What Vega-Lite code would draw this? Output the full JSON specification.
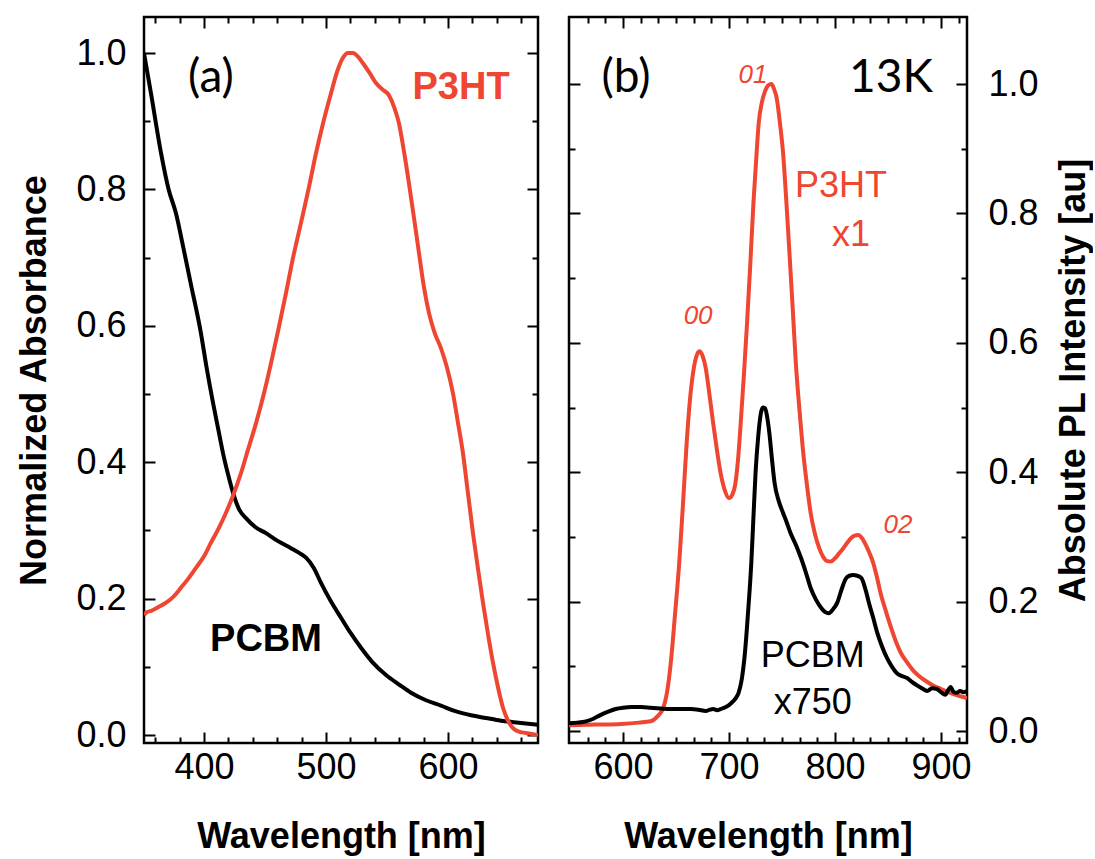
{
"$schema":"https://vega.github.io/schema/vega-lite/v6.json",
"padding":{"left":15,"top":14,"right":0,"bottom":0},
"spacing":25,
"datasets":{
"abs":[
{"wl":350.8,"a":1.0,"s":"PCBM"},{"wl":356.6,"a":0.94,"s":"PCBM"},{"wl":364.8,"a":0.853,"s":"PCBM"},{"wl":371,"a":0.8,"s":"PCBM"},{"wl":377,"a":0.765,"s":"PCBM"},{"wl":383,"a":0.715,"s":"PCBM"},{"wl":389,"a":0.663,"s":"PCBM"},{"wl":397.5,"a":0.589,"s":"PCBM"},{"wl":402,"a":0.54,"s":"PCBM"},{"wl":407.4,"a":0.487,"s":"PCBM"},{"wl":411.5,"a":0.45,"s":"PCBM"},{"wl":415.6,"a":0.413,"s":"PCBM"},{"wl":420,"a":0.38,"s":"PCBM"},{"wl":423.8,"a":0.355,"s":"PCBM"},{"wl":429,"a":0.33,"s":"PCBM"},{"wl":434.4,"a":0.318,"s":"PCBM"},{"wl":442,"a":0.305,"s":"PCBM"},{"wl":450.8,"a":0.296,"s":"PCBM"},{"wl":460,"a":0.285,"s":"PCBM"},{"wl":471.3,"a":0.274,"s":"PCBM"},{"wl":478,"a":0.267,"s":"PCBM"},{"wl":483.6,"a":0.26,"s":"PCBM"},{"wl":490,"a":0.245,"s":"PCBM"},{"wl":495.9,"a":0.223,"s":"PCBM"},{"wl":504,"a":0.196,"s":"PCBM"},{"wl":512.3,"a":0.172,"s":"PCBM"},{"wl":520,"a":0.15,"s":"PCBM"},{"wl":528.7,"a":0.128,"s":"PCBM"},{"wl":538,"a":0.107,"s":"PCBM"},{"wl":549.2,"a":0.088,"s":"PCBM"},{"wl":560,"a":0.074,"s":"PCBM"},{"wl":569.7,"a":0.062,"s":"PCBM"},{"wl":582,"a":0.051,"s":"PCBM"},{"wl":594.3,"a":0.043,"s":"PCBM"},{"wl":606,"a":0.035,"s":"PCBM"},{"wl":618.9,"a":0.029,"s":"PCBM"},{"wl":631,"a":0.025,"s":"PCBM"},{"wl":643.4,"a":0.021,"s":"PCBM"},{"wl":658,"a":0.018,"s":"PCBM"},{"wl":673.8,"a":0.015,"s":"PCBM"},
{"wl":350.8,"a":0.176,"s":"P3HT"},{"wl":353,"a":0.18,"s":"P3HT"},{"wl":356.6,"a":0.182,"s":"P3HT"},{"wl":360,"a":0.185,"s":"P3HT"},{"wl":365,"a":0.19,"s":"P3HT"},{"wl":368.9,"a":0.194,"s":"P3HT"},{"wl":375,"a":0.203,"s":"P3HT"},{"wl":381.1,"a":0.216,"s":"P3HT"},{"wl":387,"a":0.229,"s":"P3HT"},{"wl":393.4,"a":0.245,"s":"P3HT"},{"wl":400,"a":0.262,"s":"P3HT"},{"wl":405.7,"a":0.282,"s":"P3HT"},{"wl":412,"a":0.303,"s":"P3HT"},{"wl":418,"a":0.326,"s":"P3HT"},{"wl":424,"a":0.352,"s":"P3HT"},{"wl":430.3,"a":0.384,"s":"P3HT"},{"wl":436,"a":0.418,"s":"P3HT"},{"wl":442.6,"a":0.457,"s":"P3HT"},{"wl":449,"a":0.5,"s":"P3HT"},{"wl":454.9,"a":0.545,"s":"P3HT"},{"wl":461,"a":0.595,"s":"P3HT"},{"wl":467.2,"a":0.648,"s":"P3HT"},{"wl":473,"a":0.7,"s":"P3HT"},{"wl":479.5,"a":0.751,"s":"P3HT"},{"wl":486,"a":0.803,"s":"P3HT"},{"wl":491.8,"a":0.853,"s":"P3HT"},{"wl":498,"a":0.9,"s":"P3HT"},{"wl":504.1,"a":0.941,"s":"P3HT"},{"wl":509,"a":0.972,"s":"P3HT"},{"wl":513.9,"a":0.993,"s":"P3HT"},{"wl":518,"a":1.0,"s":"P3HT"},{"wl":522.1,"a":1.0,"s":"P3HT"},{"wl":526,"a":0.995,"s":"P3HT"},{"wl":530.3,"a":0.985,"s":"P3HT"},{"wl":536,"a":0.97,"s":"P3HT"},{"wl":541,"a":0.956,"s":"P3HT"},{"wl":546,"a":0.947,"s":"P3HT"},{"wl":551.6,"a":0.938,"s":"P3HT"},{"wl":556,"a":0.92,"s":"P3HT"},{"wl":559.8,"a":0.897,"s":"P3HT"},{"wl":564,"a":0.855,"s":"P3HT"},{"wl":568,"a":0.809,"s":"P3HT"},{"wl":572,"a":0.76,"s":"P3HT"},{"wl":576.2,"a":0.707,"s":"P3HT"},{"wl":580,"a":0.66,"s":"P3HT"},{"wl":584.4,"a":0.619,"s":"P3HT"},{"wl":589,"a":0.59,"s":"P3HT"},{"wl":594.3,"a":0.567,"s":"P3HT"},{"wl":599,"a":0.54,"s":"P3HT"},{"wl":604.1,"a":0.501,"s":"P3HT"},{"wl":608,"a":0.46,"s":"P3HT"},{"wl":612.3,"a":0.413,"s":"P3HT"},{"wl":616,"a":0.36,"s":"P3HT"},{"wl":620.5,"a":0.296,"s":"P3HT"},{"wl":624.5,"a":0.245,"s":"P3HT"},{"wl":628.7,"a":0.194,"s":"P3HT"},{"wl":633,"a":0.146,"s":"P3HT"},{"wl":636.9,"a":0.106,"s":"P3HT"},{"wl":641,"a":0.07,"s":"P3HT"},{"wl":645.1,"a":0.04,"s":"P3HT"},{"wl":649,"a":0.022,"s":"P3HT"},{"wl":653.3,"a":0.01,"s":"P3HT"},{"wl":658,"a":0.005,"s":"P3HT"},{"wl":664,"a":0.003,"s":"P3HT"},{"wl":673.8,"a":0.0,"s":"P3HT"}
],
"pl":[
{"wl":549,"p":0.009,"s":"P3HT"},{"wl":575,"p":0.01,"s":"P3HT"},{"wl":598,"p":0.011,"s":"P3HT"},{"wl":615,"p":0.013,"s":"P3HT"},{"wl":626,"p":0.015,"s":"P3HT"},{"wl":632,"p":0.022,"s":"P3HT"},{"wl":638,"p":0.036,"s":"P3HT"},{"wl":641.5,"p":0.06,"s":"P3HT"},{"wl":645,"p":0.105,"s":"P3HT"},{"wl":649,"p":0.18,"s":"P3HT"},{"wl":653,"p":0.26,"s":"P3HT"},{"wl":656.5,"p":0.35,"s":"P3HT"},{"wl":660,"p":0.445,"s":"P3HT"},{"wl":663,"p":0.51,"s":"P3HT"},{"wl":666,"p":0.553,"s":"P3HT"},{"wl":669,"p":0.578,"s":"P3HT"},{"wl":672,"p":0.587,"s":"P3HT"},{"wl":675,"p":0.58,"s":"P3HT"},{"wl":678,"p":0.561,"s":"P3HT"},{"wl":681.5,"p":0.52,"s":"P3HT"},{"wl":685,"p":0.476,"s":"P3HT"},{"wl":688.5,"p":0.435,"s":"P3HT"},{"wl":692,"p":0.399,"s":"P3HT"},{"wl":696,"p":0.372,"s":"P3HT"},{"wl":700,"p":0.36,"s":"P3HT"},{"wl":703,"p":0.365,"s":"P3HT"},{"wl":706,"p":0.383,"s":"P3HT"},{"wl":708.5,"p":0.42,"s":"P3HT"},{"wl":711,"p":0.476,"s":"P3HT"},{"wl":714,"p":0.55,"s":"P3HT"},{"wl":717,"p":0.631,"s":"P3HT"},{"wl":720,"p":0.72,"s":"P3HT"},{"wl":723,"p":0.816,"s":"P3HT"},{"wl":725.5,"p":0.88,"s":"P3HT"},{"wl":728,"p":0.94,"s":"P3HT"},{"wl":731,"p":0.972,"s":"P3HT"},{"wl":734,"p":0.989,"s":"P3HT"},{"wl":737,"p":0.998,"s":"P3HT"},{"wl":740,"p":1.0,"s":"P3HT"},{"wl":742.5,"p":0.992,"s":"P3HT"},{"wl":745,"p":0.978,"s":"P3HT"},{"wl":748,"p":0.94,"s":"P3HT"},{"wl":751,"p":0.893,"s":"P3HT"},{"wl":754,"p":0.82,"s":"P3HT"},{"wl":757,"p":0.739,"s":"P3HT"},{"wl":760,"p":0.655,"s":"P3HT"},{"wl":763,"p":0.569,"s":"P3HT"},{"wl":766.5,"p":0.495,"s":"P3HT"},{"wl":770,"p":0.43,"s":"P3HT"},{"wl":773.5,"p":0.38,"s":"P3HT"},{"wl":777,"p":0.337,"s":"P3HT"},{"wl":781,"p":0.305,"s":"P3HT"},{"wl":785,"p":0.283,"s":"P3HT"},{"wl":788.5,"p":0.27,"s":"P3HT"},{"wl":792,"p":0.263,"s":"P3HT"},{"wl":796,"p":0.262,"s":"P3HT"},{"wl":800,"p":0.267,"s":"P3HT"},{"wl":804,"p":0.275,"s":"P3HT"},{"wl":808,"p":0.283,"s":"P3HT"},{"wl":811.5,"p":0.291,"s":"P3HT"},{"wl":815,"p":0.298,"s":"P3HT"},{"wl":818.5,"p":0.302,"s":"P3HT"},{"wl":822,"p":0.303,"s":"P3HT"},{"wl":825,"p":0.299,"s":"P3HT"},{"wl":828,"p":0.291,"s":"P3HT"},{"wl":832,"p":0.277,"s":"P3HT"},{"wl":836,"p":0.26,"s":"P3HT"},{"wl":839.5,"p":0.238,"s":"P3HT"},{"wl":843,"p":0.213,"s":"P3HT"},{"wl":848,"p":0.185,"s":"P3HT"},{"wl":853,"p":0.159,"s":"P3HT"},{"wl":857.5,"p":0.138,"s":"P3HT"},{"wl":862,"p":0.121,"s":"P3HT"},{"wl":868,"p":0.106,"s":"P3HT"},{"wl":874,"p":0.093,"s":"P3HT"},{"wl":880,"p":0.084,"s":"P3HT"},{"wl":886,"p":0.077,"s":"P3HT"},{"wl":893,"p":0.07,"s":"P3HT"},{"wl":900,"p":0.065,"s":"P3HT"},{"wl":907,"p":0.06,"s":"P3HT"},{"wl":914,"p":0.056,"s":"P3HT"},{"wl":920,"p":0.053,"s":"P3HT"},{"wl":924.5,"p":0.051,"s":"P3HT"},
{"wl":549,"p":0.012,"s":"PCBM"},{"wl":557,"p":0.013,"s":"PCBM"},{"wl":565,"p":0.015,"s":"PCBM"},{"wl":572,"p":0.019,"s":"PCBM"},{"wl":579,"p":0.025,"s":"PCBM"},{"wl":586,"p":0.03,"s":"PCBM"},{"wl":593,"p":0.034,"s":"PCBM"},{"wl":600,"p":0.036,"s":"PCBM"},{"wl":608,"p":0.037,"s":"PCBM"},{"wl":617,"p":0.037,"s":"PCBM"},{"wl":626,"p":0.036,"s":"PCBM"},{"wl":635,"p":0.035,"s":"PCBM"},{"wl":645,"p":0.034,"s":"PCBM"},{"wl":655,"p":0.034,"s":"PCBM"},{"wl":664,"p":0.034,"s":"PCBM"},{"wl":671,"p":0.033,"s":"PCBM"},{"wl":678,"p":0.031,"s":"PCBM"},{"wl":682,"p":0.033,"s":"PCBM"},{"wl":685,"p":0.034,"s":"PCBM"},{"wl":689,"p":0.032,"s":"PCBM"},{"wl":692,"p":0.034,"s":"PCBM"},{"wl":697,"p":0.037,"s":"PCBM"},{"wl":702,"p":0.043,"s":"PCBM"},{"wl":706,"p":0.05,"s":"PCBM"},{"wl":709,"p":0.059,"s":"PCBM"},{"wl":712,"p":0.08,"s":"PCBM"},{"wl":715,"p":0.121,"s":"PCBM"},{"wl":718,"p":0.185,"s":"PCBM"},{"wl":721,"p":0.26,"s":"PCBM"},{"wl":723,"p":0.33,"s":"PCBM"},{"wl":725,"p":0.399,"s":"PCBM"},{"wl":727.5,"p":0.455,"s":"PCBM"},{"wl":730,"p":0.491,"s":"PCBM"},{"wl":732,"p":0.5,"s":"PCBM"},{"wl":734,"p":0.499,"s":"PCBM"},{"wl":736,"p":0.485,"s":"PCBM"},{"wl":738,"p":0.461,"s":"PCBM"},{"wl":740.5,"p":0.42,"s":"PCBM"},{"wl":743,"p":0.383,"s":"PCBM"},{"wl":747,"p":0.355,"s":"PCBM"},{"wl":751,"p":0.337,"s":"PCBM"},{"wl":754.5,"p":0.322,"s":"PCBM"},{"wl":758,"p":0.306,"s":"PCBM"},{"wl":763,"p":0.288,"s":"PCBM"},{"wl":768,"p":0.267,"s":"PCBM"},{"wl":772.5,"p":0.245,"s":"PCBM"},{"wl":777,"p":0.221,"s":"PCBM"},{"wl":782,"p":0.203,"s":"PCBM"},{"wl":787,"p":0.19,"s":"PCBM"},{"wl":790.5,"p":0.184,"s":"PCBM"},{"wl":794,"p":0.182,"s":"PCBM"},{"wl":798,"p":0.188,"s":"PCBM"},{"wl":802,"p":0.198,"s":"PCBM"},{"wl":806,"p":0.218,"s":"PCBM"},{"wl":810,"p":0.235,"s":"PCBM"},{"wl":813.5,"p":0.24,"s":"PCBM"},{"wl":817,"p":0.241,"s":"PCBM"},{"wl":821,"p":0.24,"s":"PCBM"},{"wl":825,"p":0.236,"s":"PCBM"},{"wl":828.5,"p":0.22,"s":"PCBM"},{"wl":832,"p":0.198,"s":"PCBM"},{"wl":836,"p":0.175,"s":"PCBM"},{"wl":840,"p":0.151,"s":"PCBM"},{"wl":844.5,"p":0.13,"s":"PCBM"},{"wl":849,"p":0.113,"s":"PCBM"},{"wl":853.5,"p":0.1,"s":"PCBM"},{"wl":858,"p":0.09,"s":"PCBM"},{"wl":863,"p":0.085,"s":"PCBM"},{"wl":868,"p":0.082,"s":"PCBM"},{"wl":872.5,"p":0.076,"s":"PCBM"},{"wl":877,"p":0.071,"s":"PCBM"},{"wl":882,"p":0.066,"s":"PCBM"},{"wl":887,"p":0.062,"s":"PCBM"},{"wl":891.5,"p":0.066,"s":"PCBM"},{"wl":896,"p":0.065,"s":"PCBM"},{"wl":900,"p":0.06,"s":"PCBM"},{"wl":904,"p":0.056,"s":"PCBM"},{"wl":907,"p":0.064,"s":"PCBM"},{"wl":909,"p":0.068,"s":"PCBM"},{"wl":912,"p":0.06,"s":"PCBM"},{"wl":915,"p":0.059,"s":"PCBM"},{"wl":918,"p":0.062,"s":"PCBM"},{"wl":921,"p":0.06,"s":"PCBM"},{"wl":924.5,"p":0.062,"s":"PCBM"}
]
},
"hconcat":[
{
"width":394,"height":726,
"resolve":{"axis":{"x":"independent","y":"independent"}},
"layer":[
{"data":{"name":"abs"},"mark":{"type":"line","strokeWidth":4,"clip":true,"interpolate":"monotone"},
 "encoding":{
  "x":{"field":"wl","type":"quantitative","scale":{"domain":[350.8,673.8],"nice":false,"zero":false},"axis":{"orient":"bottom","values":[400,500,600],"title":"Wavelength [nm]","tickSize":-11,"labelPadding":18,"titlePadding":34,"labelFlush":false}},
  "y":{"field":"a","type":"quantitative","scale":{"domain":[-0.0117,1.0528],"nice":false,"zero":false},"axis":{"orient":"left","values":[0,0.2,0.4,0.6,0.8,1],"format":".1f","title":"Normalized Absorbance","tickSize":-11,"labelPadding":29,"titlePadding":22,"labelFlush":false}},
  "color":{"field":"s","type":"nominal","scale":{"domain":["P3HT","PCBM"],"range":["#ef4631","#000000"]},"legend":null}
 }},
{"data":{"name":"abs"},"mark":{"type":"line","opacity":0},
 "encoding":{
  "x":{"field":"wl","type":"quantitative","scale":{"domain":[350.8,673.8],"nice":false,"zero":false},"axis":{"orient":"bottom","values":[360,380,420,440,460,480,520,540,560,580,620,640,660],"labels":false,"title":null,"tickSize":-6}},
  "y":{"field":"a","type":"quantitative","scale":{"domain":[-0.0117,1.0528],"nice":false,"zero":false},"axis":{"orient":"left","values":[0.1,0.3,0.5,0.7,0.9],"labels":false,"title":null,"tickSize":-6}}
 }},
{"data":{"name":"abs"},"mark":{"type":"line","opacity":0},
 "encoding":{
  "x":{"field":"wl","type":"quantitative","scale":{"domain":[350.8,673.8],"nice":false,"zero":false},"axis":{"orient":"top","values":[400,500,600],"labels":false,"title":null,"tickSize":-11}},
  "y":{"field":"a","type":"quantitative","scale":{"domain":[-0.0117,1.0528],"nice":false,"zero":false},"axis":{"orient":"right","values":[0,0.2,0.4,0.6,0.8,1],"labels":false,"title":null,"tickSize":-11}}
 }},
{"data":{"name":"abs"},"mark":{"type":"line","opacity":0},
 "encoding":{
  "x":{"field":"wl","type":"quantitative","scale":{"domain":[350.8,673.8],"nice":false,"zero":false},"axis":{"orient":"top","values":[360,380,420,440,460,480,520,540,560,580,620,640,660],"labels":false,"title":null,"tickSize":-6}},
  "y":{"field":"a","type":"quantitative","scale":{"domain":[-0.0117,1.0528],"nice":false,"zero":false},"axis":{"orient":"right","values":[0.1,0.3,0.5,0.7,0.9],"labels":false,"title":null,"tickSize":-6}}
 }},
{"data":{"values":[{"x":405.7,"y":0.963,"t":"(a)"}]},"mark":{"type":"text","font":"Lato","fontSize":46,"color":"#000","align":"center","baseline":"middle"},
 "encoding":{"x":{"field":"x","type":"quantitative","axis":null},"y":{"field":"y","type":"quantitative","axis":null},"text":{"field":"t"}}},
{"data":{"values":[{"x":610.7,"y":0.949,"t":"P3HT"}]},"mark":{"type":"text","font":"Liberation Sans","fontWeight":"bold","fontSize":38,"color":"#ef4631","align":"center","baseline":"middle"},
 "encoding":{"x":{"field":"x","type":"quantitative","axis":null},"y":{"field":"y","type":"quantitative","axis":null},"text":{"field":"t"}}},
{"data":{"values":[{"x":450.8,"y":0.139,"t":"PCBM"}]},"mark":{"type":"text","font":"Liberation Sans","fontWeight":"bold","fontSize":38,"color":"#000","align":"center","baseline":"middle"},
 "encoding":{"x":{"field":"x","type":"quantitative","axis":null},"y":{"field":"y","type":"quantitative","axis":null},"text":{"field":"t"}}}
]
},
{
"width":398,"height":726,
"resolve":{"axis":{"x":"independent","y":"independent"}},
"layer":[
{"data":{"name":"pl"},"mark":{"type":"line","strokeWidth":4,"clip":true,"interpolate":"monotone"},
 "encoding":{
  "x":{"field":"wl","type":"quantitative","scale":{"domain":[549,924.5],"nice":false,"zero":false},"axis":{"orient":"bottom","values":[600,700,800,900],"title":"Wavelength [nm]","tickSize":-11,"labelPadding":18,"titlePadding":34,"labelFlush":false}},
  "y":{"field":"p","type":"quantitative","scale":{"domain":[-0.0185,1.1036],"nice":false,"zero":false},"axis":{"orient":"right","values":[0,0.2,0.4,0.6,0.8,1],"format":".1f","title":"Absolute PL Intensity [au]","titleAngle":270,"titleBaseline":"top","tickSize":-11,"labelPadding":32,"titlePadding":18,"labelFlush":false}},
  "color":{"field":"s","type":"nominal","scale":{"domain":["P3HT","PCBM"],"range":["#ef4631","#000000"]},"legend":null}
 }},
{"data":{"name":"pl"},"mark":{"type":"line","opacity":0},
 "encoding":{
  "x":{"field":"wl","type":"quantitative","scale":{"domain":[549,924.5],"nice":false,"zero":false},"axis":{"orient":"bottom","values":[566.67,583.33,616.67,633.33,650,666.67,683.33,716.67,733.33,750,766.67,783.33,816.67,833.33,850,866.67,883.33,916.67],"labels":false,"title":null,"tickSize":-6}},
  "y":{"field":"p","type":"quantitative","scale":{"domain":[-0.0185,1.1036],"nice":false,"zero":false},"axis":{"orient":"right","values":[0.1,0.3,0.5,0.7,0.9],"labels":false,"title":null,"tickSize":-6}}
 }},
{"data":{"name":"pl"},"mark":{"type":"line","opacity":0},
 "encoding":{
  "x":{"field":"wl","type":"quantitative","scale":{"domain":[549,924.5],"nice":false,"zero":false},"axis":{"orient":"top","values":[600,700,800,900],"labels":false,"title":null,"tickSize":-11}},
  "y":{"field":"p","type":"quantitative","scale":{"domain":[-0.0185,1.1036],"nice":false,"zero":false},"axis":{"orient":"left","values":[0,0.2,0.4,0.6,0.8,1],"labels":false,"title":null,"tickSize":-11}}
 }},
{"data":{"name":"pl"},"mark":{"type":"line","opacity":0},
 "encoding":{
  "x":{"field":"wl","type":"quantitative","scale":{"domain":[549,924.5],"nice":false,"zero":false},"axis":{"orient":"top","values":[566.67,583.33,616.67,633.33,650,666.67,683.33,716.67,733.33,750,766.67,783.33,816.67,833.33,850,866.67,883.33,916.67],"labels":false,"title":null,"tickSize":-6}},
  "y":{"field":"p","type":"quantitative","scale":{"domain":[-0.0185,1.1036],"nice":false,"zero":false},"axis":{"orient":"left","values":[0.1,0.3,0.5,0.7,0.9],"labels":false,"title":null,"tickSize":-6}}
 }},
{"data":{"values":[{"x":602.8,"y":1.009,"t":"(b)"},{"x":852.8,"y":1.009,"t":"13K"}]},"mark":{"type":"text","font":"Lato","fontSize":46,"color":"#000","align":"center","baseline":"middle"},
 "encoding":{"x":{"field":"x","type":"quantitative","axis":null},"y":{"field":"y","type":"quantitative","axis":null},"text":{"field":"t"}}},
{"data":{"values":[{"x":805.7,"y":0.842,"t":"P3HT"},{"x":815,"y":0.767,"t":"x1"}]},"mark":{"type":"text","font":"Liberation Sans","fontSize":36,"color":"#ef4631","align":"center","baseline":"middle"},
 "encoding":{"x":{"field":"x","type":"quantitative","axis":null},"y":{"field":"y","type":"quantitative","axis":null},"text":{"field":"t"}}},
{"data":{"values":[{"x":670.8,"y":0.641,"t":"00"},{"x":722.6,"y":1.014,"t":"01"},{"x":859.4,"y":0.318,"t":"02"}]},"mark":{"type":"text","font":"Liberation Sans","fontStyle":"italic","fontSize":26,"color":"#ef4631","align":"center","baseline":"middle"},
 "encoding":{"x":{"field":"x","type":"quantitative","axis":null},"y":{"field":"y","type":"quantitative","axis":null},"text":{"field":"t"}}},
{"data":{"values":[{"x":779,"y":0.116,"t":"PCBM"},{"x":779,"y":0.043,"t":"x750"}]},"mark":{"type":"text","font":"Liberation Sans","fontSize":36,"color":"#000","align":"center","baseline":"middle"},
 "encoding":{"x":{"field":"x","type":"quantitative","axis":null},"y":{"field":"y","type":"quantitative","axis":null},"text":{"field":"t"}}}
]
}
],
"config":{
 "view":{"stroke":"#000","strokeWidth":2.5},
 "axis":{"domain":false,"grid":false,"tickColor":"#000","tickWidth":2,"labelColor":"#000","labelFont":"Liberation Sans","labelFontSize":36,"titleColor":"#000","titleFont":"Liberation Sans","titleFontSize":36,"titleFontWeight":"bold"}
}
}
